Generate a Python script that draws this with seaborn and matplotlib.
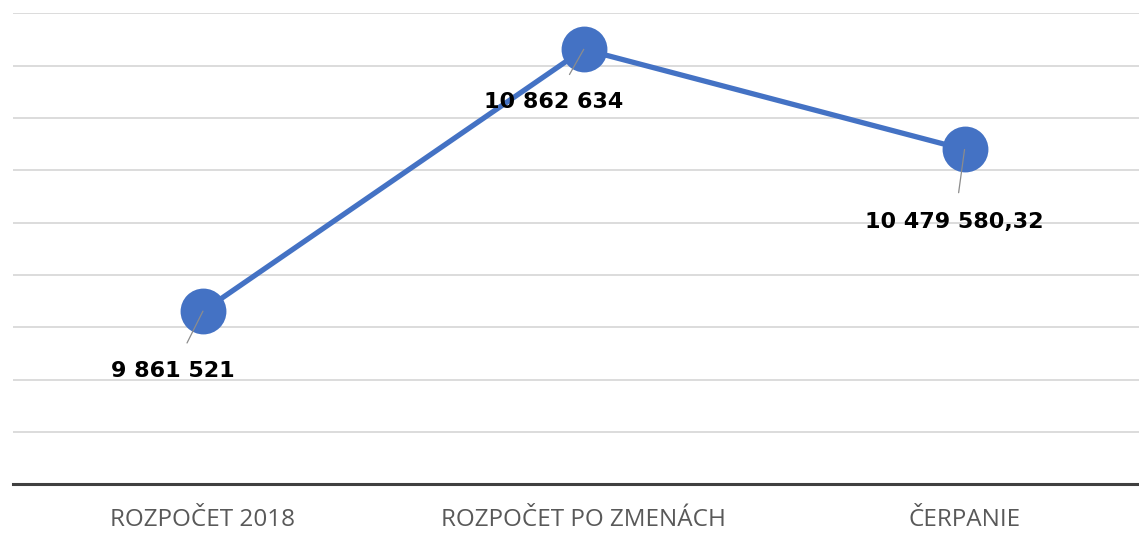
import pandas as pd
import matplotlib.pyplot as plt
import seaborn as sns

# Data
categories = ['ROZPOČET 2018', 'ROZPOČET PO ZMENÁCH', 'ČERPANIE']
values = [9861521, 10862634, 10479580.32]
value_labels = ['9 861 521', '10 862 634', '10 479 580,32']

df = pd.DataFrame({'kategoria': categories, 'suma': values})
df['x'] = range(len(df))

sns.set_style('white')
plt.rcParams['font.family'] = ['Open Sans', 'DejaVu Sans']

fig = plt.figure(figsize=(11.39, 5.35), dpi=100)
ax = fig.add_axes([0.011, 0.095, 1.003, 0.880])

sns.lineplot(data=df, x='x', y='suma', color='#4472C4', linewidth=3.8,
             marker='o', markersize=33, markeredgewidth=0, ax=ax, zorder=3)

# Data labels with leader lines
offsets = [(-30, -60), (-30, -53), (-10, -73)]
for xi, v, lab, off in zip(df['x'], values, value_labels, offsets):
    ax.annotate(lab, xy=(xi, v), xytext=off, textcoords='offset pixels',
                ha='center', va='center', fontsize=16, fontweight='bold',
                family=['DejaVu Sans'], color='black',
                arrowprops=dict(arrowstyle='-', color='#8c8c8c', lw=0.9,
                                shrinkA=12, shrinkB=0), zorder=5)

ax.set_ylim(9200000, 11000000)
ax.set_yticks([9200000 + 200000 * i for i in range(10)])
ax.set_xlim(-0.5, 2.5)
ax.set_xticks(df['x'])
ax.set_xticklabels(categories, fontsize=17.5, color='#595959')
ax.set_yticklabels([])
ax.tick_params(axis='both', length=0, pad=17)
ax.grid(axis='y', color='#d9d9d9', linewidth=1.3)
ax.set_axisbelow(True)
for s in ['top', 'right', 'left']:
    ax.spines[s].set_visible(False)
ax.spines['bottom'].set_color('#404040')
ax.spines['bottom'].set_linewidth(2.2)
ax.set_xlabel('')
ax.set_ylabel('')

fig.savefig('out.png', dpi=100)
